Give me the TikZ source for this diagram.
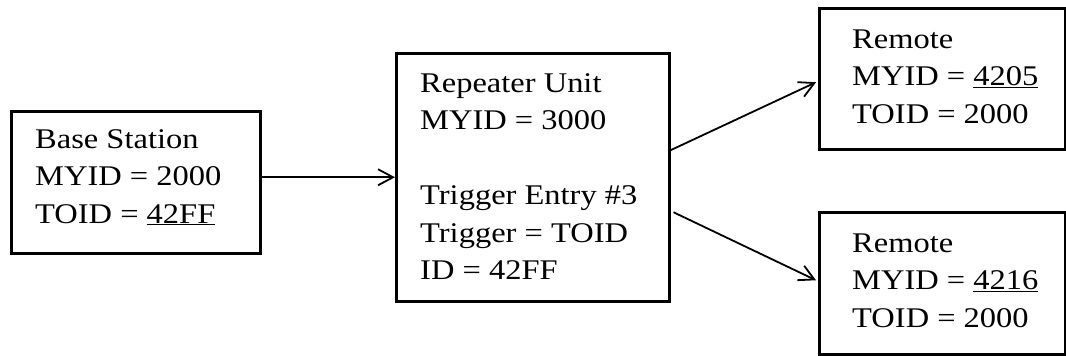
\documentclass[tikz,border=0pt]{standalone}
\usepackage{fontspec}
\setmainfont{Liberation Serif}[FakeStretch=1.14]
\usetikzlibrary{arrows.meta,calc}
\newcommand\tlines[1]{\vtop{\baselineskip=37.5pt\lineskiplimit=-100pt\halign{##\hfil\cr#1\crcr}}}
\begin{document}
\begin{tikzpicture}[x=1pt,y=-1pt,
  box/.style={draw,line width=2.5pt,rectangle,inner sep=0pt,anchor=north west},
  txt/.style={anchor=base west,inner sep=0pt,font=\fontsize{28.5}{37.5}\selectfont},
  conn/.style={line width=1.8pt,-{Straight Barb[length=15pt,width=16pt,line width=1.8pt]}}]
\path[use as bounding box] (0,0) rectangle (1066,356);
\node[box,minimum width=249pt,minimum height=142pt] (base) at (10,110) {};
\node[box,minimum width=273pt,minimum height=248pt] (rep) at (395,52) {};
\node[box,minimum width=246pt,minimum height=141pt] (r1) at (818,7) {};
\node[box,minimum width=246pt,minimum height=142pt] (r2) at (818,211) {};
\node[txt] (basetxt) at (35,148) {\tlines{Base Station\cr MYID = 2000\cr TOID = \underline{42FF}}};
\node[txt] (reptxt) at (420,92) {\tlines{Repeater Unit\cr MYID = 3000\cr\cr Trigger Entry \#3\cr Trigger = TOID\cr ID = 42FF}};
\node[txt] (r1txt) at (852,48) {\tlines{Remote\cr MYID = \underline{4205}\cr TOID = 2000}};
\node[txt] (r2txt) at (852,252) {\tlines{Remote\cr MYID = \underline{4216}\cr TOID = 2000}};
\draw[conn] (base.east |- rep.west) -- (rep.west);
\draw[conn] ($(rep.east)+(0,-27)$) -- ($(r1.west)+(-2,3.5)$);
\draw[conn] ($(rep.east)+(3,35)$) -- ($(r2.west)+(-2,-3)$);
\end{tikzpicture}
\end{document}
